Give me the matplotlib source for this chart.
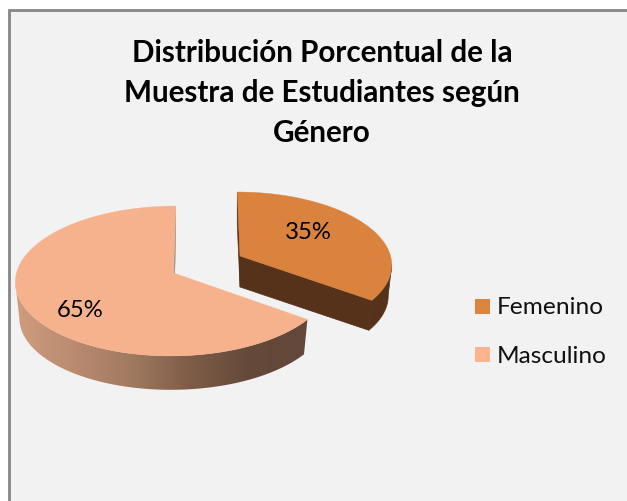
"""Exploded pseudo-3D pie, drawn in pixel coordinates of the 627x502 canvas."""
import numpy as np
import matplotlib
matplotlib.use("Agg")
import matplotlib.pyplot as plt
from matplotlib.colors import LinearSegmentedColormap
from matplotlib.patches import Polygon, Rectangle

TITLE = "Distribución Porcentual de la\nMuestra de Estudiantes según\nGénero"
categories = ["Femenino", "Masculino"]
values = [35, 65]

TOP = ["#D9833E", "#F6B28D"]
LEG = ["#DB843D", "#FCB48F"]
DARK = "#57321A"
SLIVER = "#A89484"
GRAD = ["#D09C7E", "#B98B70", "#A07A60", "#7F5C48", "#654A3B", "#62473A"]
K = 0.1066      # perspective: back of the disc shrinks

plt.rcParams["font.family"] = ["Lato", "DejaVu Sans"]
W, H = 627, 502
fig = plt.figure(figsize=(W / 100, H / 100), dpi=100, facecolor="white")
ax = fig.add_axes([0, 0, 1, 1])
ax.axis("off")

ax.add_patch(Rectangle((9, 11), W + 20, H + 20, facecolor="#F2F2F2",
                       edgecolor="#868686", lw=2.0))


def rim(t, cx, cy, R, S, lean):
    u, v = np.sin(t), np.cos(t)
    w = 1 + K * v
    return np.column_stack([cx + (R * u + lean * v) / w, cy - S * v / w])


edges = np.radians(np.cumsum([0] + values) * 3.6)
TURN_R, TURN_L = np.radians(97), np.radians(263)   # where the walls go out of sight

# Femenino, pulled out towards the upper right
top_f = (240, 257, 150.5, 70.8, -3)
bot_f = (240, 288, 147, 69, -3)
t = np.linspace(edges[0], edges[1], 120)
a, b = rim(t, *top_f), rim(t, *bot_f)
t_vis = np.linspace(TURN_R, edges[1], 40)
ax.add_patch(Polygon(np.vstack([rim(t_vis, *top_f), rim(t_vis, *bot_f)[::-1]]),
                     color=DARK, lw=0.5, zorder=2))
end_face = [top_f[:2], a[-1], b[-1], bot_f[:2]]
ax.add_patch(Polygon(end_face, color=DARK, lw=0.5, zorder=2))
ax.add_patch(Polygon([top_f[:2], a[0], b[0], bot_f[:2]], color=DARK, lw=0.5, zorder=2))
ax.add_patch(Polygon(np.vstack([[top_f[:2]], a]), color=TOP[0], lw=0.3, zorder=3))

# Masculino, wall shaded left to right through a clipped gradient image
top_m = (173.5, 274, 157, 74.1, 2.5)
bot_m = (173.5, 310, 153, 72.2, 2.5)
t = np.linspace(edges[1], edges[2], 240)
a, b = rim(t, *top_m), rim(t, *bot_m)
cmap = LinearSegmentedColormap.from_list("wall", GRAD)
t_vis = np.linspace(edges[1], TURN_L, 120)
wall = Polygon(np.vstack([rim(t_vis, *top_m), rim(t_vis, *bot_m)[::-1]]),
               transform=ax.transData, fc="none", ec="none")
ax.add_patch(wall)
xs = np.linspace(0, 330, 331)
img = ax.imshow(np.clip((xs - 16) / 290, 0, 1)[None, :], cmap=cmap, aspect="auto",
                extent=(0, 330, 400, 200), zorder=2, interpolation="bilinear")
img.set_clip_path(wall)
ax.add_patch(Polygon([top_m[:2], a[-1], b[-1], bot_m[:2]], color=SLIVER, lw=0.3, zorder=2))
ax.add_patch(Polygon(np.vstack([[top_m[:2]], a]), color=TOP[1], lw=0.3, zorder=3))

ax.text(322, 93, TITLE, ha="center", va="center", fontsize=21.3, fontweight="bold",
        color="black", linespacing=1.52, zorder=5)

ax.text(308, 233, f"{values[0]}%", ha="center", va="center", fontsize=17.2, zorder=5)
ax.text(80, 311, f"{values[1]}%", ha="center", va="center", fontsize=17.2, zorder=5)

for name, col, y in zip(categories, LEG, [307, 355.5]):
    ax.add_patch(Rectangle((475, y - 7.5), 15, 15, facecolor=col, edgecolor="none", zorder=5))
    ax.text(497, y + 1, name, ha="left", va="center", fontsize=17.6, color="#111111", zorder=5)

ax.set_xlim(0, W); ax.set_ylim(H, 0)
fig.savefig("out.png", dpi=100)
